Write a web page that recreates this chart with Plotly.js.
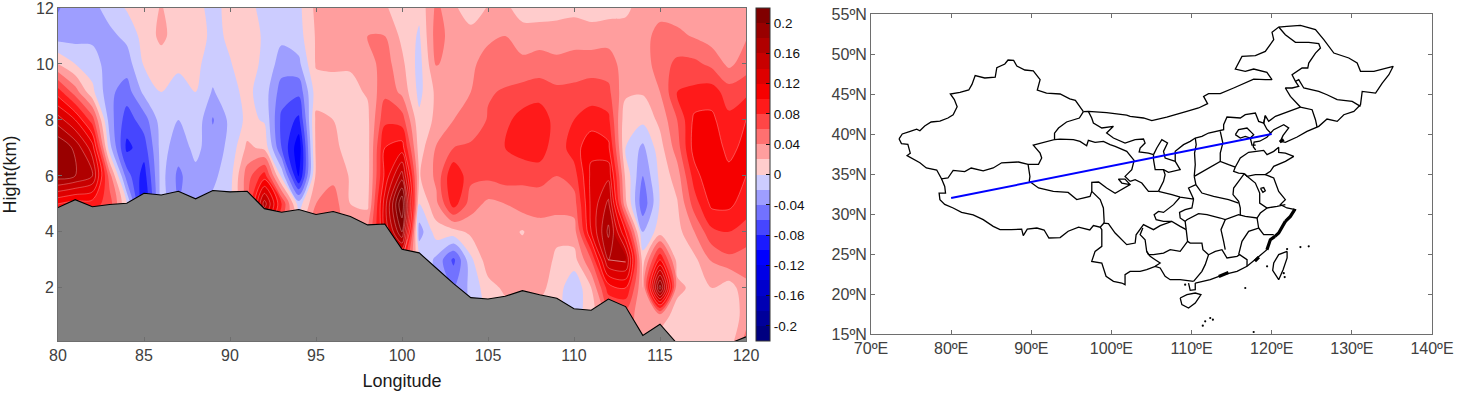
<!DOCTYPE html>
<html>
<head>
<meta charset="utf-8">
<script src="https://cdn.plot.ly/plotly-3.0.1.min.js"></script>
<style>html,body{margin:0;padding:0;background:#fff}#chart{width:1466px;height:394px}</style>
</head>
<body>
<div id="chart"></div>
<script>
// ---------- left panel data ----------
const longitudes = [80,81,82,83,84,85,86,87,88,89,90,91,92,93,94,95,96,97,98,99,100,101,102,103,104,105,106,107,108,109,110,111,112,113,114,115,116,117,118,119,120];
const heights = [0,1,2,3,4,5,6,7,8,9,10,11,12];
const z12 = [-.042,-.028,-.026,-.012,.002,.005,.022,.005,.005,-.005,.005,.005,-.005,-.005,-.005,.025,.03,.03,.03,.025,0,.005,.045,.025,.005,.022,.025,.01,.01,.012,.015,.01,.012,.015,.03,.03,.03,.03,.025,.02,.03];
const z11 = [-.03,-.028,-.025,-.025,-.015,.008,.025,.01,.01,-.005,.003,.018,-.005,-.015,-.008,.022,.03,.03,.04,.04,.015,-.003,.05,.03,.03,.035,.04,.03,.03,.03,.03,.03,.032,.03,.03,.05,.045,.038,.03,.03,.038];
const z10 = [.02,0,-.01,-.03,-.03,.002,.01,.005,.005,-.01,-.001,.008,-.004,-.03,-.025,.022,.022,.022,.03,.05,.025,-.008,.042,.03,.035,.05,.05,.045,.05,.045,.05,.05,.05,.03,.03,.05,.065,.065,.055,.035,.05];
const z9 = [.09,.05,.005,-.035,-.05,-.015,0,-.01,0,-.022,-.006,.005,-.01,-.05,-.055,.01,.015,.015,.022,.055,.035,-.006,.025,.035,.04,.058,.062,.068,.07,.065,.065,.07,.065,.025,.022,.04,.08,.085,.09,.07,.075];
const z8 = [.15,.12,.07,-.03,-.07,-.05,-.01,-.02,-.005,-.042,-.015,.005,-.002,-.065,-.085,.025,.02,.012,.015,.075,.07,.005,.025,.04,.042,.062,.075,.088,.095,.07,.08,.09,.085,.005,.005,.025,.06,.105,.105,.085,.1];
const z7 = [.2,.175,.13,-.012,-.085,-.07,-.012,-.03,-.015,-.03,-.015,.025,.015,-.06,-.115,.025,.025,.012,.012,.1,.11,.01,.042,.06,.065,.07,.08,.09,.09,.068,.09,.115,.105,0,-.025,.012,.05,.11,.11,.095,.105];
const z6 = [.19,.18,.16,.05,-.05,-.09,-.012,-.045,-.025,-.025,-.008,.05,.09,-.005,-.105,.025,.035,.018,.012,.105,.17,.018,.045,.1,.065,.065,.07,.065,.07,.06,.07,.125,.135,.015,-.04,.005,.03,.09,.12,.105,.1];
const z5 = [.1,.09,.09,.07,0,-.1,-.01,-.04,-.025,-.015,-.005,.05,.17,.08,-.01,.04,.05,.02,.015,.13,.24,0,.035,.09,.05,.035,.04,.05,.045,.05,.05,.125,.165,.025,-.055,.002,.018,.07,.105,.105,.09];
const z4 = [.06,.06,.05,.03,-.01,-.05,-.01,-.03,-.02,-.01,-.005,.05,.1,.05,.02,.05,.05,.03,.04,.12,.2,-.03,.01,.012,.025,.03,.03,.018,.035,.025,.03,.12,.185,.1,-.02,.01,.012,.04,.075,.08,.072];
const z3 = [.05,.05,.05,.03,-.01,-.05,-.01,-.03,-.02,-.01,-.005,.05,.1,.05,.02,.05,.05,.03,.04,.12,.1,0,-.025,-.065,-.005,.032,.034,.034,.032,.016,.012,.06,.16,.165,.01,.1,.012,.015,.042,.055,.05];
const z2 = [.05,.05,.05,.03,-.01,-.05,-.01,-.03,-.02,-.01,-.005,.05,.1,.05,.02,.05,.05,.03,.04,.12,.1,0,-.02,-.04,-.015,.012,.024,.03,.025,.012,-.018,.02,.09,.1,.02,.21,.025,.015,.02,.008,.035];
const z1 = [.05,.05,.05,.03,-.01,-.05,-.01,-.03,-.02,-.01,-.005,.05,.1,.05,.02,.05,.05,.03,.04,.12,.1,0,-.02,-.04,-.015,.005,.012,.025,.015,.005,-.01,.01,.05,.05,.03,.03,.012,.01,.005,.003,.03];
const z0 = [.05,.05,.05,.03,-.01,-.05,-.01,-.03,-.02,-.01,-.005,.05,.1,.05,.02,.05,.05,.03,.04,.12,.1,0,-.02,-.04,-.015,.005,.012,.025,.015,.005,-.01,.01,.05,.05,.03,.01,.005,.005,.002,.01,.05];
const terrain = [4.87,5.15,4.9,4.98,5.02,5.38,5.32,5.45,5.18,5.48,5.43,5.45,4.83,4.7,4.8,4.62,4.73,4.55,4.25,4.28,3.38,3.25,2.7,2.15,1.65,1.6,1.7,1.9,1.75,1.63,1.25,1.2,1.6,1.33,0.3,0.7,0,0,0,0,0.25];
const bandColors = ['#000080','#00009A','#0000B3','#0000CC','#0000E6','#0000FF','#1A1AFF','#4646FF','#7272FF','#9E9EFF','#CCCCFF',
                    '#FFCCCC','#FF9E9E','#FF7070','#FF4646','#FF1A1A','#F60000','#DE0000','#C80000','#B00000','#990000','#800000'];
const colorbarTicks = [-0.2,-0.16,-0.12,-0.08,-0.04,0,0.04,0.08,0.12,0.16,0.2];
const xTicksLeft = [80,85,90,95,100,105,110,115,120];
const yTicksLeft = [2,4,6,8,10,12];

// ---------- right panel data ----------
const lonTicks = [70,80,90,100,110,120,130,140];
const lonLabels = ['70ºE','80ºE','90ºE','100ºE','110ºE','120ºE','130ºE','140ºE'];
const latTicks = [15,20,25,30,35,40,45,50,55];
const latLabels = ['15ºN','20ºN','25ºN','30ºN','35ºN','40ºN','45ºN','50ºN','55ºN'];
const sectionLon = [80,120];
const sectionLat = [32,40];

const xinjiangNorth = [[73.5,39.4],[73.9,40],[74.8,40.3],[75.7,40.6],[76.1,40.4],[76.7,41],[77.5,41.5],[78.6,41.6],[79.6,42],[80.25,42.4],[80.75,43.4],[80.4,44.3],[79.9,45],[81.1,45.2],[82.2,45.5],[82.6,46.2],[83,47.3],[84.2,47],[85.5,47.1],[85.7,48.3],[86.7,48.75],[87.1,49.25],[87.8,49.2],[88.2,48.5],[89.2,48],[90.25,47.9],[91.1,46.8],[90.75,45.5],[91.9,45.1],[93.6,45],[94.8,44.4],[95.5,44.2],[96.5,42.8]];
const xinjiangSouth = [[96.5,42.8],[96,42],[94.4,41.5],[93.4,40.75],[92.9,40.1],[92.9,39.3],[90.25,38.6],[91.1,37.6],[91.3,37],[90.9,36.2],[89.6,36.2],[88.4,36.5],[86.3,36.4],[85.25,35.75],[84,35.4],[82.5,35.75],[81.7,35.3],[80.25,35.45],[79.6,34.5],[78.8,34.4],[78.2,35.5],[76.9,35.75],[76.1,36.4],[75,37],[74.5,37.3],[74.9,37.6],[74.6,38.7],[73.8,38.8],[73.5,39.4]];
const tibetSouth = [[78.8,34.4],[79.2,33.45],[79.3,32.6],[78.5,32.6],[78.6,31.8],[79.2,31.2],[80.25,30.75],[81.3,30.2],[82.75,29.9],[84,29.3],[85.25,28.45],[86.1,28.05],[87.5,28.05],[88.8,28.1],[89,27.3],[89.5,28.1],[90.7,28.25],[91.6,28],[92.2,27],[93.6,27.05],[94.6,27.85],[95.9,28.35],[97.3,28],[97.75,28.55],[98.6,28.35],[99.1,28.9]];
const tibetQinghai = [[89.6,36.2],[89.83,34.7],[89.75,34.1],[90.9,33.25],[92.75,32.83],[94.6,32.7],[95.67,31.8],[96.5,32],[97.33,32.2],[97.55,32.83],[97.96,32.4],[98.6,31.8],[99,30.75],[99.1,28.9]];
const qinghaiSichuan = [[97.55,32.83],[97.55,33.96],[98.4,34],[99.4,33.25],[100.46,32.6],[101.7,33.25],[102.33,33.67],[101.7,34.37],[100.87,34.37],[101.3,33.87],[102.33,33.67]];
const qinghaiGansu = [[92.9,39.3],[93.58,39.37],[95.25,39.29],[96.08,39.08],[96.91,38.54],[97.12,39.2],[97.96,38.96],[99,39.08],[99.83,38.67],[100.46,38.46],[101.91,37.83],[102.83,36.71],[102.54,35.54],[101.7,34.7],[102.33,34.08]];
const gansuSichuan = [[102.33,34.08],[102.96,34.29],[103.79,33.87],[104.62,32.83],[105.87,32.83]];
const innerMongoliaSouth = [[97.12,42.83],[97.54,42],[97.75,41.37],[98.8,40.75],[100.25,40.96],[99.4,40.12],[100.25,39.5],[101.7,38.87],[102.96,39.29],[104,39.37],[104.2,38.87],[103.58,38.25],[103.46,37.75],[104.62,37.62],[105.25,37.42]];
const ningxia = [[105.25,37.42],[105.66,38.25],[106.29,39.29],[107,38.87],[106.5,37.83],[106.7,37],[107.96,36.58],[108.58,35.54],[107.12,35.2],[106.5,35.54],[105.46,35.54],[105.25,36.79],[105.25,37.42]];
const gansuShaanxi = [[106.5,35.54],[106.7,34.91],[106.5,34.08],[105.87,32.83]];
const shaanxiNorth = [[107.96,36.58],[107.96,37.83],[109,38.67],[109.83,39.08],[110.46,39.5],[111.29,39.7],[112.12,40.12],[114,40.54],[114,41.17],[114.42,42.12],[116.08,42],[116.7,42.41],[117.96,42.62],[118.37,41.58],[119,41.37],[119.2,42.29]];
const shaanxiShanxi = [[110.46,39.5],[110.58,38.66],[110.37,37.62],[110.46,36.17],[110.33,34.7]];
const shanxiHenan = [[110.33,34.7],[111.08,35.12],[111.7,35.54],[112.75,36.04],[113.58,36.58],[114.62,36.17],[115.46,35.87]];
const shanxiHebei = [[113.58,40.33],[113.9,38.87],[113.58,37.62],[113.58,36.58]];
const henanAnhui = [[115.46,35.87],[115.25,35.33],[115.87,35.12],[116.58,35.04],[115.87,34.08],[115.25,33.25],[115.17,32.42],[115.87,31.58],[116.08,30.75],[116.08,29.8]];
const henanHubei = [[110.33,34.7],[110.54,33.67],[111.29,32.62],[112.75,32.2],[114.62,31.79],[115.87,31.37]];
const shaanxiSouth = [[110.54,33.67],[109.62,33.25],[110.25,31.87],[108.58,32.12],[107.54,32.42],[106.5,32.62],[105.87,32.83]];
const chongqing = [[108.58,32.12],[107.75,31.17],[106.5,30.2],[105.87,30.33],[105.33,29.92],[105.58,29.29],[106.5,29.08],[107.54,29.08]];
const chongqingEast = [[110.25,31.87],[110.04,30.75],[109.2,30.54],[108.5,30.2],[108.58,29.5],[109.2,29.08],[109.33,28.04]];
const sichuanEast = [[99,28.87],[99.62,28.79],[100.46,27.62],[101.29,26.79],[101.91,26.17],[102.96,26.37],[103.08,27.4],[104,28.67],[105.25,28.04],[106.08,28.54],[107.54,29.08],[108.58,28.46],[109.33,28.04]];
const guizhouSouth = [[109.33,28.04],[109.5,26.58],[108.58,25.33],[107.33,25.54],[106.5,25.12],[105.25,24.91],[104.62,24.91],[104.4,25.33],[104.2,26.79],[103.58,27.42],[103.92,28.25]];
const yunnanSouth = [[98.6,28.35],[98.8,28.04],[98.8,25.96],[97.96,25.33],[97.54,24.08],[98.8,23.87],[99.33,22.21],[100.25,21.58],[101.29,21.37],[101.7,21.17],[101.7,22.42],[102.33,22.83],[103.58,22.83],[104.4,23.04],[105.46,23.46],[106.08,23.25],[106.7,22.21],[107.33,21.79],[108.58,21.79],[110.25,21.58]];
const yunnanGuangxi = [[104.4,25.33],[104.83,24.71],[105.46,24.29],[106.08,23.87],[105.46,23.46]];
const guangxiEast = [[109.5,26.58],[109.83,26.37],[111.29,26.37],[111.42,25.54],[112.12,24.91],[111.7,23.67],[111.29,22.83],[110.25,21.58]];
const hunanSouth = [[112.12,24.91],[112.96,25.33],[113.79,25.54],[114.42,24.5],[115.67,24.71],[116,24.92],[116.92,24.29],[116.92,23.46]];
const hunanEast = [[114.2,29.29],[113.67,28.04],[114,26.58],[114.2,25.54]];
const hubeiSouth = [[109.2,29.08],[109.42,29.29],[110.87,30.04],[111.92,29.92],[113.58,29.5],[114.2,29.29],[115.87,29.92],[116.7,29.71],[118.17,29.5],[118.58,30.12],[119.42,30.75]];
const jiangxiEast = [[118.17,29.5],[118.37,28.25],[117.12,27.83],[116.29,26.58],[115.87,24.92]];
const fujianNorth = [[118.37,28.25],[119,27.42],[120.25,27.42]];
const jiangsuAnhui = [[116.58,35.04],[116.92,34.71],[117.96,33.87],[118.5,32.62],[118.5,31.37],[119.42,30.75],[120.67,30.96],[121.7,31.17]];
const hongzeLake = [[118.6,33.2],[119,33.3],[119.2,32.9],[118.9,32.7],[118.6,33.2]];
const mongoliaBorder = [[96.5,42.8],[97.12,42.83],[99.4,42.67],[101.9,42.37],[102.33,42.2],[104,42],[105.04,41.67],[106.9,42.12],[109.4,42.83],[110.87,43.25],[112,43.79],[111.5,44.7],[112.12,45.04],[113.58,45.04],[115.25,45.75],[116.7,46.37],[117.75,46.87],[119.2,46.79],[120.04,46.79],[119.4,47.7],[117.75,48.12],[116.7,47.83],[115.46,48.12],[116.29,49.7],[117.96,49.79],[119.2,50.33],[120.25,51.79],[120.04,52.71],[120.87,53.37],[121.9,53.46],[123.58,53.58],[125.46,53.04],[126.5,51.79],[127.75,50.12],[129.62,49.5],[130.66,48.87],[131.08,47.83],[132.75,47.83],[135.16,48.46],[134.62,47.41],[133.79,46.37],[132.96,45.12],[131.29,45.33],[131.08,43.67],[130.25,42.83],[129,42.41],[128.17,41.58],[126.9,41.87],[125.87,40.96],[124.4,40.33],[123.17,39.62],[121.7,38.96],[121.08,39.08],[121.4,39.79],[122.12,40.75],[121.5,41.17],[120.25,40.54],[119.87,40.12]];
const heilongjiangWest = [[120.87,53.37],[121.7,52.41],[122.96,51.46],[124.62,51.46],[125.87,51.29],[126.08,50.75],[125.46,50.12],[124.62,48.87],[124.5,48.25],[123.79,48.25],[122.54,47.41],[122.96,46.58],[123.37,46.79],[124,45.75],[125.87,45.33],[126.9,44.91],[128.17,44.29],[130.04,44.08],[131.08,43.46]];
const jilinWest = [[122.96,46.58],[123.37,45.96],[122.54,45.75],[121.7,45.75],[122.33,44.7],[123.58,43.37],[125.04,43.04],[125.46,41.79],[125.66,40.87]];
const liaoningWest = [[123.58,43.37],[122.12,42.83],[120.46,42.21],[119.62,41.58],[119.2,42.29],[119,41.37],[119.4,40.6],[119.87,40.12]];
const hebeiCoast = [[119.87,40.12],[119.4,39.6],[118.5,39.1],[117.8,39],[117.7,38.4],[118,38]];
const beijing = [[115.46,39.92],[115.87,40.54],[116.92,40.75],[117.75,39.92],[117.33,39.5],[116.7,39.71],[116.08,39.5],[115.46,39.92]];
const tianjin = [[117.33,39.5],[117.54,38.6],[118,38.6]];
const shandong = [[115.46,35.87],[116.08,37],[117.12,37.71],[119,37.96],[119.42,37.42],[120.25,37.83],[120.87,38.33],[120.87,37.71],[121.71,37.62],[122.75,37.21],[121.71,36.58],[120.25,35.96],[119.83,35.33],[119.21,34.92],[117.96,34.92],[116.92,34.71],[116.58,35.04]];
const eastCoast = [[119.21,34.92],[120.25,34.5],[120.87,32.83],[121.7,31.79],[121.08,31.17],[121.9,30.75],[122.96,30.54],[122.33,29.7],[121.7,29.08],[120.87,27.62],[119.83,26.79],[119.4,25.54],[118.17,24.5],[116.92,23.46],[115.67,22.83],[114,22.41],[112.33,21.79],[110.46,21.37]];
const hainan = [[108.58,19.5],[109.42,19.92],[110.46,20.12],[111.17,19.92],[110.46,18.87],[109.62,18.25],[108.79,18.67],[108.58,19.5]];
const leizhou = [[109.62,21.37],[109.83,20.46],[110.46,20.54],[110.46,21.37]];
const taiwan = [[121.92,25.33],[120.87,24.92],[120.25,23.87],[120.12,22.96],[120.87,21.79],[121.42,23.04],[121.92,24.5],[121.92,25.33]];
const thickCoastNorth = [[122.9,30.6],[122.33,29.7],[121.7,29.08]];
const thickCoastMid = [[121.7,29.08],[120.87,27.62],[120.4,27.2]];
const thickCoastSouth = [[120.4,27.2],[119.83,26.79],[119.4,25.54]];
const thickCoastFar = [[118.4,24.6],[117.9,24.1]];
const thickGuangdong = [[114.6,22.7],[113.4,22.2]];
const thickLiaoning = [[121.5,39.3],[121,39]];
const smallIslandLon = [119.42,121.62,121.92,123.58,124.62,116.7,109.2,112.33,111.7,111.4,112.66,117.75,121.5];
const smallIslandLat = [23.46,22.12,25.62,25.87,25.96,20.75,21.17,17,16.58,16.04,16.79,15.25,22.6];

const mapEdges = [xinjiangNorth,xinjiangSouth,tibetSouth,tibetQinghai,qinghaiSichuan,qinghaiGansu,gansuSichuan,innerMongoliaSouth,ningxia,gansuShaanxi,shaanxiNorth,shaanxiShanxi,shanxiHenan,shanxiHebei,henanAnhui,henanHubei,shaanxiSouth,chongqing,chongqingEast,sichuanEast,guizhouSouth,yunnanSouth,yunnanGuangxi,guangxiEast,hunanSouth,hunanEast,hubeiSouth,jiangxiEast,fujianNorth,jiangsuAnhui,hongzeLake,mongoliaBorder,heilongjiangWest,jilinWest,liaoningWest,hebeiCoast,beijing,tianjin,shandong,eastCoast,hainan,leizhou,taiwan];
const thickEdges = [thickCoastNorth,thickCoastMid,thickCoastSouth,thickCoastFar,thickGuangdong,thickLiaoning];

function flatten(edges, k){
  const out = [];
  edges.forEach(e => { e.forEach(p => out.push(p[k])); out.push(null); });
  return out;
}

const zGrid = [z0,z1,z2,z3,z4,z5,z6,z7,z8,z9,z10,z11,z12];
const colorscale = [];
bandColors.forEach((c,i) => {
  colorscale.push([i/bandColors.length, c]);
  colorscale.push([(i+1)/bandColors.length, c]);
});

const W = 1466, H = 394;
const fontFam = '"Liberation Sans", Arial, sans-serif';
const tickGrey = '#404040', axisGrey = '#6e6e6e';
const commonAxis = {showgrid:false, zeroline:false, showline:true, linecolor:axisGrey, linewidth:1, mirror:'ticks',
  ticks:'inside', ticklen:4, tickcolor:axisGrey, tickwidth:1, ticklabeloverflow:'allow',
  tickfont:{family:fontFam, size:16, color:tickGrey}};

const data = [
  {type:'contour', x:longitudes, y:heights, z:zGrid, xaxis:'x', yaxis:'y',
   zauto:false, zmin:-0.22, zmax:0.22, autocontour:false, colorscale:colorscale,
   contours:{start:-0.22, end:0.22, size:0.02, coloring:'fill', showlines:false},
   line:{width:0, smoothing:0.9},
   colorbar:{x:756/W, xanchor:'left', y:(H-341)/H, yanchor:'bottom', len:333/H, lenmode:'fraction',
     thickness:14, thicknessmode:'pixels', xpad:0, ypad:0, outlinecolor:'#333', outlinewidth:1,
     tickmode:'array', tickvals:colorbarTicks, ticktext:colorbarTicks.map(String),
     ticks:'inside', ticklen:4, tickcolor:'#111', tickfont:{family:fontFam, size:13.5, color:'#111'}},
   hoverinfo:'skip'},
  {type:'contour', x:longitudes, y:heights, z:zGrid, xaxis:'x', yaxis:'y', showscale:false,
   autocontour:false, contours:{start:0.1, end:0.34, size:0.02, coloring:'none', showlines:true},
   line:{color:'rgba(255,215,215,0.55)', width:0.6, smoothing:0.9}, hoverinfo:'skip'},
  {type:'scatter', mode:'lines', x:longitudes, y:terrain, xaxis:'x', yaxis:'y', fill:'tozeroy', fillcolor:'#808080',
   line:{color:'#000', width:1.1}, hoverinfo:'skip', showlegend:false},
  {type:'scatter', mode:'lines', x:flatten(mapEdges,0), y:flatten(mapEdges,1), xaxis:'x2', yaxis:'y2',
   line:{color:'#000', width:1.3}, connectgaps:false, hoverinfo:'skip', showlegend:false},
  {type:'scatter', mode:'lines', x:flatten(thickEdges,0), y:flatten(thickEdges,1), xaxis:'x2', yaxis:'y2',
   line:{color:'#000', width:3.2}, connectgaps:false, hoverinfo:'skip', showlegend:false},
  {type:'scatter', mode:'markers', x:smallIslandLon, y:smallIslandLat, xaxis:'x2', yaxis:'y2',
   marker:{color:'#000', size:2.2}, hoverinfo:'skip', showlegend:false},
  {type:'scatter', mode:'lines', x:sectionLon, y:sectionLat, xaxis:'x2', yaxis:'y2',
   line:{color:'#0000ff', width:2}, hoverinfo:'skip', showlegend:false}
];

const layout = {
  width:W, height:H, margin:{l:0,r:0,t:0,b:0}, paper_bgcolor:'#fff', plot_bgcolor:'#fff', showlegend:false,
  font:{family:fontFam},
  xaxis:Object.assign({}, commonAxis, {domain:[58/W,746/W], range:[80,120], tickmode:'array', tickvals:xTicksLeft, anchor:'y',
    title:{text:'Longitude', font:{family:fontFam, size:18, color:'#1a1a1a'}, standoff:11}}),
  yaxis:Object.assign({}, commonAxis, {domain:[(H-341)/H,(H-8)/H], range:[0.1,12], tickmode:'array', tickvals:yTicksLeft, anchor:'x',
    title:{text:'Hight(km)', font:{family:fontFam, size:18, color:'#1a1a1a'}, standoff:15}}),
  xaxis2:Object.assign({}, commonAxis, {domain:[871/W,1432/W], range:[70,140], tickmode:'array', tickvals:lonTicks, ticktext:lonLabels, anchor:'y2'}),
  yaxis2:Object.assign({}, commonAxis, {domain:[(H-334)/H,(H-14)/H], range:[15,55], tickmode:'array', tickvals:latTicks, ticktext:latLabels, anchor:'x2'})
};

Plotly.newPlot('chart', data, layout, {displayModeBar:false, staticPlot:true});
</script>
</body>
</html>
